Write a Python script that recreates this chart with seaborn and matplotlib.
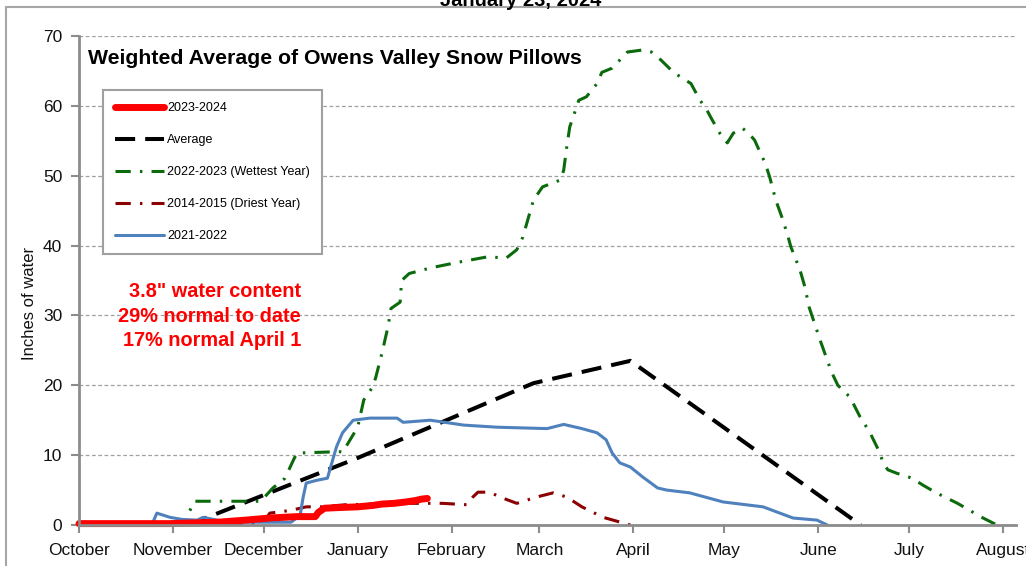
import matplotlib
matplotlib.use("Agg")
import matplotlib.pyplot as plt
from matplotlib import font_manager
from matplotlib.lines import Line2D
import seaborn as sns

# -----------------------------
# data (days since Oct 1, inches of water)
# -----------------------------
months = ["October", "November", "December", "January", "February", "March",
          "April", "May", "June", "July", "August"]
month_len = [31, 30, 31, 31, 29, 31, 30, 31, 30, 31]

cur_day = [0, 15, 30, 46, 55, 63, 72, 78, 79, 81, 86, 92, 97, 100, 104, 108, 111, 113, 115]
cur_val = [0.2, 0.2, 0.2, 0.4, 0.7, 1.0, 1.2, 1.2, 1.8, 2.4, 2.5, 2.6, 2.8, 3.0, 3.1, 3.3, 3.5, 3.7, 3.8]

avg_day = [36, 92, 150, 182, 258]
avg_val = [0.0, 9.6, 20.3, 23.5, 0.0]

wet_day = [31, 35, 38, 60, 64, 68, 71, 72, 86, 87, 92, 94, 97, 98, 100, 102, 103, 106, 106.5,
           109, 116, 125, 135, 141, 144.5, 146.5, 150, 153, 159, 160, 161, 162, 165, 167.5,
           171, 172.6, 176, 181, 186, 189, 192, 196, 199, 202, 205, 207, 209, 211.5, 214,
           216, 219, 221, 223, 225, 226.5, 228, 230, 232, 233.7, 235, 238, 239.6, 241, 243,
           244.6, 247, 248.5, 250.5, 254.5, 257.8, 261, 264.4, 265.4, 267, 270, 275, 278.6,
           283, 290, 294, 298, 303]
wet_val = [0.0, 0.5, 3.4, 3.4, 5.3, 6.7, 9.5, 10.3, 10.5, 10.4, 14.0, 17.9, 19.8, 21.2, 24.6,
           28.4, 31.0, 31.9, 35.0, 36.0, 36.8, 37.6, 38.4, 38.2, 39.4, 41.2, 46.5, 48.4, 49.4,
           50.8, 54.1, 57.0, 60.8, 61.3, 63.2, 64.8, 65.4, 67.7, 68.0, 67.7, 66.6, 64.9, 64.0,
           63.2, 60.8, 59.6, 58.0, 56.1, 54.7, 56.1, 56.8, 56.1, 55.1, 53.2, 51.8, 49.8, 46.5,
           44.1, 41.8, 39.8, 36.5, 34.1, 31.2, 28.6, 26.5, 23.6, 21.8, 20.0, 18.3, 15.5, 13.3,
           10.3, 8.9, 7.9, 7.4, 6.7, 5.7, 4.6, 3.1, 2.1, 1.1, 0.0]

dry_day = [49, 58, 62, 63, 70, 75, 80, 88, 100, 110, 120, 124, 128, 130, 131.7, 135.6, 139,
           144.5, 151, 156.5, 161, 166, 173, 182]
dry_val = [0.0, 0.3, 1.1, 1.7, 2.1, 2.6, 2.6, 2.9, 3.0, 3.1, 3.1, 3.0, 2.9, 4.0, 4.7, 4.7,
           4.0, 3.1, 4.0, 4.6, 4.0, 2.6, 1.1, 0.0]

y22_day = [7, 24, 25.7, 30, 34, 39, 41, 45.5, 52, 63, 70, 73, 74, 75, 78.5, 82, 84, 85, 87,
           90.5, 96, 105, 107, 116, 127, 138, 154.5, 160, 166, 171, 174, 176, 178.5, 182, 186,
           191, 194, 201.6, 212.6, 225.8, 235.7, 243.6, 247]
y22_val = [0.0, 0.0, 1.7, 1.1, 0.8, 0.7, 1.1, 0.7, 0.4, 0.4, 0.4, 1.4, 4.0, 6.0, 6.4, 6.7,
           9.7, 11.2, 13.2, 15.0, 15.3, 15.3, 14.7, 15.0, 14.3, 14.0, 13.8, 14.4, 13.8, 13.2,
           12.2, 10.3, 8.9, 8.3, 6.9, 5.3, 5.0, 4.6, 3.3, 2.6, 1.0, 0.7, 0.0]

# -----------------------------
# style
# -----------------------------
sns.set_style("white")
names = {f.name for f in font_manager.fontManager.ttflist}
narrow = "Liberation Sans Narrow" if "Liberation Sans Narrow" in names else "Liberation Sans"
plt.rcParams["font.family"] = [narrow, "Liberation Sans", "DejaVu Sans"]
plt.rcParams["text.color"] = "black"

fig = plt.figure(figsize=(10.26, 5.66), dpi=100)
ax = fig.add_axes([79 / 1026, 1 - 525 / 566, 937 / 1026, 489 / 566])

sns.lineplot(x=avg_day, y=avg_val, ax=ax, color="black", linewidth=2.9,
             linestyle=(0, (5, 2.5)), label="Average")
sns.lineplot(x=wet_day, y=wet_val, ax=ax, color="#0b6a0b", linewidth=2.2,
             linestyle=(0, (5, 3, 0.8, 3)), label="2022-2023 (Wettest Year)")
sns.lineplot(x=dry_day, y=dry_val, ax=ax, color="#8b0000", linewidth=2.2,
             linestyle=(0, (5, 3, 0.8, 3)), label="2014-2015 (Driest Year)")
sns.lineplot(x=y22_day, y=y22_val, ax=ax, color="#4f81bd", linewidth=2.2, label="2021-2022")
sns.lineplot(x=cur_day, y=cur_val, ax=ax, color="#ff0000", linewidth=5, label="2023-2024",
             clip_on=False)

# axes
ticks = [0]
for n in month_len:
    ticks.append(ticks[-1] + n)
ax.set_xlim(0, 309.3)
ax.set_ylim(0, 70)
ax.set_xticks(ticks)
ax.set_xticklabels(months, fontsize=12.5, color="#111111")
ax.set_yticks(range(0, 71, 10))
ax.tick_params(axis="y", labelsize=12.5, colors="#111111", length=6, width=1.5,
               color="#8c8c8c", pad=6, direction="out", left=True)
ax.tick_params(axis="x", length=6, width=1.5, color="#8c8c8c", pad=7, direction="out",
               bottom=True)
ax.set_xlabel("")
ax.set_ylabel("Inches of water", fontsize=12, color="#111111")
ax.yaxis.set_label_coords(-42 / 937, (525 - 303) / 489)
ax.yaxis.grid(True, color="#a0a0a0", linestyle=(0, (3, 2)), linewidth=0.9)
ax.set_axisbelow(True)
for s in ["top", "right"]:
    ax.spines[s].set_visible(False)
for s in ["left", "bottom"]:
    ax.spines[s].set_color("#8c8c8c")
    ax.spines[s].set_linewidth(2)

# legend in original order
h, l = ax.get_legend_handles_labels()
order = ["2023-2024", "Average", "2022-2023 (Wettest Year)", "2014-2015 (Driest Year)", "2021-2022"]
hmap = dict(zip(l, h))
leg = ax.legend([hmap[k] for k in order], order, loc="upper left",
                bbox_to_anchor=((103 - 79) / 937, (525 - 90) / 489), borderaxespad=0,
                fontsize=9, handlelength=3.9, handletextpad=0.3, labelspacing=1.6,
                borderpad=0.95, fancybox=False, framealpha=1, edgecolor="#a0a0a0")
leg.get_frame().set_linewidth(1.5)

# texts
ax.text((88 - 79) / 937, (525 - 59) / 489, "Weighted Average of Owens Valley Snow Pillows",
        transform=ax.transAxes, fontsize=15.3, fontweight="bold", ha="left", va="center",
        color="black")
ax.text((301 - 79) / 937, (525 - 316) / 489,
        "3.8\" water content\n29% normal to date\n17% normal April 1",
        transform=ax.transAxes, fontsize=14.3, fontweight="bold", color="#ff0000",
        ha="right", va="center", multialignment="right", linespacing=1.38)

fig.text(521 / 1026, 1 - 6 / 566, "January 23, 2024", ha="center", va="baseline",
         fontsize=14.5, fontweight="bold")

# outer frame
fig.add_artist(Line2D([6 / 1026, 6 / 1026], [0, 1 - 7 / 566], color="#a6a6a6", lw=1.5))
fig.add_artist(Line2D([6 / 1026, 1], [1 - 7 / 566, 1 - 7 / 566], color="#a6a6a6", lw=1.5))

fig.savefig("out.png", dpi=100)
